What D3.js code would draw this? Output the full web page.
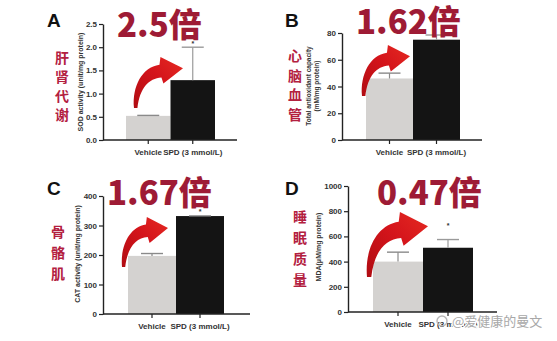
<!DOCTYPE html>
<html><head><meta charset="utf-8">
<script src="https://cdn.jsdelivr.net/npm/d3@7/dist/d3.min.js"></script>
<style>
html,body{margin:0;padding:0;background:#fff;}
svg{display:block;}
</style></head>
<body>
<svg id="chart" width="557" height="341"></svg>
<script>
// ---------- data ----------
const categories = ["Vehicle", "SPD (3 mmol/L)"];
const sodMean = [0.52, 1.29];
const sodSD = [0.01, 0.71];
const taocMean = [46, 75];
const taocSD = [4, 3.5];
const catMean = [197, 332];
const catSD = [8, 1];
const mdaMean = [400, 510];
const mdaSD = [75, 65];
const sodTicks = [0, 0.5, 1.0, 1.5, 2.0, 2.5];
const taocTicks = [0, 20, 40, 60, 80];
const catTicks = [0, 100, 200, 300, 400];
const mdaTicks = [0, 200, 400, 600, 800, 1000];
const panelLetters = ["A", "B", "C", "D"];
const foldLabels = ["2.5倍", "1.62倍", "1.67倍", "0.47倍"];
const tissueLabels = ["肝肾代谢", "心脑血管", "骨骼肌", "睡眠质量"];
const yTitles = [["SOD activity (unit/mg protein)"], ["Total antioxidant capacity", "(mM/mg protein)"], ["CAT activity (unit/mg protein)"], ["MDA(μM/mg protein)"]];
const sigMarks = ["*", "", "*", "*"];
const watermark = "@爱健康的曼文";

const means = [sodMean, taocMean, catMean, mdaMean];
const sds = [sodSD, taocSD, catSD, mdaSD];
const ticks = [sodTicks, taocTicks, catTicks, mdaTicks];
const tickFmts = [d3.format(".1f"), d3.format("d"), d3.format("d"), d3.format("d")];

// ---------- layout (pixels) ----------
const layout = [
  {ax:103, xEnd:237, yTop:24, yBot:140, band:[126,215], letter:[47,27], fold:[117,37], tissue:[62,57,19], ytitle:[80,82], arrow:[134,57,183,108], sigGap:1},
  {ax:342, xEnd:482, yTop:33, yBot:140, band:[366,460], letter:[285,27], fold:[356,34], tissue:[295,55,19.5], ytitle:[314,86], arrow:[362,45,410,96], sigGap:1},
  {ax:103, xEnd:250, yTop:196, yBot:314, band:[128,224], letter:[47,195], fold:[107,205], tissue:[58,231,21], ytitle:[77,254], arrow:[122,217,168,267], sigGap:2},
  {ax:348, xEnd:497, yTop:186, yBot:312, band:[373,473], letter:[285,195], fold:[377,205], tissue:[300,216,21], ytitle:[318,247], arrow:[367,212,428,277], sigGap:12}
];
const barColors = ["#d4d2d0", "#141414"];
const latin = "'Liberation Sans', Arial, sans-serif";
const cjk = "'Noto Sans CJK SC', 'Noto Sans', sans-serif";

const svg = d3.select("#chart");
const defs = svg.append("defs");
const grad = defs.append("linearGradient").attr("id","arrowGrad")
  .attr("x1","0").attr("y1","1").attr("x2","1").attr("y2","0");
grad.append("stop").attr("offset","0%").attr("stop-color","#b00c12");
grad.append("stop").attr("offset","55%").attr("stop-color","#d4141b");
grad.append("stop").attr("offset","100%").attr("stop-color","#e52a22");

function arrowPath(x0,y0,x1,y1){
  const w = x1-x0, h = y1-y0;
  const p = (u,v)=> [x0+u*w, y0+v*h];
  const path = d3.path();
  path.moveTo(...p(0,1));
  path.bezierCurveTo(...p(-0.04,0.58), ...p(0.16,0.2), ...p(0.52,0.15));
  path.lineTo(...p(0.54,0.0));
  path.lineTo(...p(1,0.22));
  path.lineTo(...p(0.6,0.52));
  path.lineTo(...p(0.56,0.4));
  path.bezierCurveTo(...p(0.3,0.42), ...p(0.12,0.6), ...p(0.07,1));
  path.closePath();
  return path.toString();
}

layout.forEach((L, i) => {
  const g = svg.append("g");
  const y = d3.scaleLinear().domain([0, d3.max(ticks[i])]).range([L.yBot, L.yTop]);
  const x = d3.scaleBand().domain(categories).range(L.band).padding(0);

  // bars
  g.selectAll("rect.bar").data(categories).enter().append("rect")
    .attr("x", d => x(d)).attr("width", x.bandwidth())
    .attr("y", (d,j) => y(means[i][j]))
    .attr("height", (d,j) => L.yBot - y(means[i][j]))
    .attr("fill", (d,j) => barColors[j]);

  // error bars
  categories.forEach((c,j) => {
    const cx = x(c) + x.bandwidth()/2;
    const top = y(means[i][j] + sds[i][j]);
    const col = j===0 ? "#8a8a8a" : "#9a9a9a";
    g.append("line").attr("x1",cx).attr("x2",cx).attr("y1",y(means[i][j])).attr("y2",top)
      .attr("stroke",col).attr("stroke-width",1.2);
    g.append("line").attr("x1",cx-11).attr("x2",cx+11).attr("y1",top).attr("y2",top)
      .attr("stroke",col).attr("stroke-width",1.4);
  });
  // significance mark
  if (sigMarks[i]) {
    const c = categories[1];
    g.append("text").attr("x", x(c)+x.bandwidth()/2)
      .attr("y", y(means[i][1]+sds[i][1]) - L.sigGap)
      .attr("text-anchor","middle").attr("font-family",latin).attr("font-weight","bold")
      .attr("font-size",7).attr("fill","#333").text(sigMarks[i]);
  }

  // y axis
  const yAxis = d3.axisLeft(y).tickValues(ticks[i]).tickFormat(tickFmts[i]).tickSize(4).tickPadding(2).tickSizeOuter(0);
  const ya = g.append("g").attr("transform",`translate(${L.ax},0)`).call(yAxis);
  ya.select(".domain").attr("stroke","#222").attr("stroke-width",1.4);
  ya.selectAll(".tick line").attr("stroke","#222").attr("stroke-width",1.2);
  ya.selectAll(".tick text").attr("font-family",latin).attr("font-weight","bold").attr("font-size",8).attr("fill","#333");

  // x axis
  const xAxis = d3.axisBottom(x).tickSize(4).tickPadding(5).tickSizeOuter(0);
  const xa = g.append("g").attr("transform",`translate(0,${L.yBot})`).call(xAxis);
  xa.select(".domain").remove();
  xa.selectAll(".tick line").attr("stroke","#222").attr("stroke-width",1.2);
  xa.selectAll(".tick text").attr("font-family",latin).attr("font-weight","bold").attr("font-size",8).attr("fill","#333");
  g.append("line").attr("x1",L.ax).attr("x2",L.xEnd).attr("y1",L.yBot).attr("y2",L.yBot)
    .attr("stroke","#222").attr("stroke-width",1.4);

  // y title
  const yt = g.append("text").attr("transform",`translate(${L.ytitle[0]},${L.ytitle[1]}) rotate(-90)`)
    .attr("text-anchor","middle").attr("font-family",latin).attr("font-weight","bold")
    .attr("font-size", yTitles[i].length>1 ? 6.5 : 7).attr("fill","#333");
  yTitles[i].forEach((t,k) => {
    yt.append("tspan").attr("x",0).attr("dy", k===0 ? (yTitles[i].length>1 ? -3 : 2.5) : 7.5).text(t);
  });

  // panel letter
  g.append("text").attr("x",L.letter[0]).attr("y",L.letter[1]).attr("font-family",latin)
    .attr("font-weight","bold").attr("font-size",19).attr("fill","#111").text(panelLetters[i]);

  // tissue vertical label
  Array.from(tissueLabels[i]).forEach((ch,k) => {
    g.append("text").attr("x",L.tissue[0]).attr("y",L.tissue[1] + k*L.tissue[2])
      .attr("text-anchor","middle").attr("dominant-baseline","central")
      .attr("font-family",cjk).attr("font-weight","bold").attr("font-size",14)
      .attr("fill","#b3203f").text(ch);
  });

  // arrow
  g.append("path").attr("d", arrowPath(...L.arrow)).attr("fill","url(#arrowGrad)");

  // fold change
  g.append("text").attr("x",L.fold[0]).attr("y",L.fold[1]).attr("font-family",cjk)
    .attr("font-weight","900").attr("font-size",33).attr("fill","#9e1b35").text(foldLabels[i]);
});

// watermark
const wm = svg.append("g");
wm.append("circle").attr("cx",442).attr("cy",321).attr("r",5).attr("fill","none")
  .attr("stroke","#b8b8b8").attr("stroke-width",1.4);
wm.append("text").attr("x",452).attr("y",326).attr("font-family",cjk).attr("font-size",13)
  .attr("fill","#a8a8a8").attr("stroke","#fff").attr("stroke-width",2.5).attr("paint-order","stroke")
  .text(watermark);
</script>
</body></html>
